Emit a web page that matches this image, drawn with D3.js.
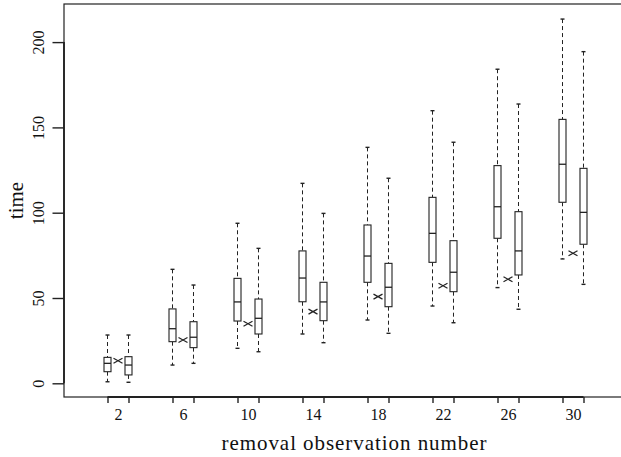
<!DOCTYPE html>
<html>
<head>
<meta charset="utf-8">
<script src="https://cdn.jsdelivr.net/npm/d3@7"></script>
<style>
  body { margin: 0; background: #fff; }
  svg { display: block; }
  text { font-family: "Liberation Serif", "Times New Roman", serif; fill: #111; }
</style>
</head>
<body>
<svg></svg>
<script>
// removal observation numbers (pair centres)
var positions = [2, 6, 10, 14, 18, 22, 26, 30];

// left box of each pair
var aLow  = [0.9, 10.7, 20.5, 28.9, 37.1, 45.3, 56.1, 72.9];
var aQ1   = [6.8, 24.4, 36.5, 47.8, 59.2, 70.9, 85.0, 106.1];
var aMed  = [11.7, 32.0, 47.7, 61.7, 74.6, 87.9, 103.5, 128.4];
var aQ3   = [15.2, 43.6, 61.5, 77.6, 92.8, 109.0, 127.6, 154.7];
var aHigh = [28.3, 66.8, 93.8, 117.2, 138.3, 159.8, 184.1, 213.5];

// right box of each pair
var bLow  = [0.6, 11.7, 18.5, 23.8, 29.3, 35.5, 43.4, 58.0];
var bQ1   = [4.9, 20.9, 28.9, 36.7, 44.9, 53.7, 63.5, 81.5];
var bMed  = [10.7, 27.0, 38.1, 47.7, 56.3, 65.1, 77.6, 100.2];
var bQ3   = [15.6, 36.1, 49.4, 59.2, 70.3, 83.6, 100.6, 126.0];
var bHigh = [28.3, 57.6, 79.1, 99.6, 120.2, 141.3, 163.7, 194.4];

// the "x" marks between the boxes
var marks = [13.2, 25.4, 34.9, 42.0, 50.8, 57.2, 61.0, 76.2];

var yTicks = [0, 50, 100, 150, 200];

var width = 621, height = 457;
var plot = { left: 64, right: 644, top: 4, bottom: 397 };
var shift = 0.646,   // box offset from the pair centre, in observation units
    boxW = 7,
    capW = 4;

var svg = d3.select("svg")
  .attr("width", width)
  .attr("height", height);

var x = d3.scaleLinear()
  .domain([2, 30])
  .range([118, 573]);

var y = d3.scaleLinear()
  .domain([0, 200])
  .range([383.3, 42.1]);

// build the box table from the arrays
var boxes = [];
positions.forEach(function(p, i) {
  boxes.push({ at: p - shift, low: aLow[i], q1: aQ1[i], med: aMed[i], q3: aQ3[i], high: aHigh[i] });
  boxes.push({ at: p + shift, low: bLow[i], q1: bQ1[i], med: bMed[i], q3: bQ3[i], high: bHigh[i] });
});

var g = svg.selectAll("g.box")
  .data(boxes)
  .enter()
  .append("g")
  .attr("class", "box");

// dashed whiskers
g.append("line")
  .attr("x1", d => x(d.at)).attr("x2", d => x(d.at))
  .attr("y1", d => y(d.high)).attr("y2", d => y(d.q3))
  .attr("stroke", "#222").attr("stroke-dasharray", "4,3");
g.append("line")
  .attr("x1", d => x(d.at)).attr("x2", d => x(d.at))
  .attr("y1", d => y(d.q1)).attr("y2", d => y(d.low))
  .attr("stroke", "#222").attr("stroke-dasharray", "4,3");

// staples
g.append("line")
  .attr("x1", d => x(d.at) - capW / 2).attr("x2", d => x(d.at) + capW / 2)
  .attr("y1", d => y(d.high)).attr("y2", d => y(d.high))
  .attr("stroke", "#222").attr("stroke-width", 1.4);
g.append("line")
  .attr("x1", d => x(d.at) - capW / 2).attr("x2", d => x(d.at) + capW / 2)
  .attr("y1", d => y(d.low)).attr("y2", d => y(d.low))
  .attr("stroke", "#222").attr("stroke-width", 1.4);

// boxes and medians
g.append("rect")
  .attr("x", d => x(d.at) - boxW / 2)
  .attr("y", d => y(d.q3))
  .attr("width", boxW)
  .attr("height", d => y(d.q1) - y(d.q3))
  .attr("fill", "white")
  .attr("stroke", "#222")
  .attr("stroke-width", 1.1);
g.append("line")
  .attr("x1", d => x(d.at) - boxW / 2).attr("x2", d => x(d.at) + boxW / 2)
  .attr("y1", d => y(d.med)).attr("y2", d => y(d.med))
  .attr("stroke", "#222").attr("stroke-width", 1.3);

// x marks
svg.selectAll("path.mark")
  .data(marks)
  .enter()
  .append("path")
  .attr("class", "mark")
  .attr("d", (d, i) => {
    var cx = x(positions[i]), cy = y(d);
    return "M" + (cx - 4.5) + "," + (cy - 2.5) + "L" + (cx + 4.5) + "," + (cy + 2.5) +
           "M" + (cx - 4.5) + "," + (cy + 2.5) + "L" + (cx + 4.5) + "," + (cy - 2.5);
  })
  .attr("stroke", "#222")
  .attr("stroke-width", 1.2)
  .attr("fill", "none");

// plot frame
svg.append("rect")
  .attr("x", plot.left).attr("y", plot.top)
  .attr("width", plot.right - plot.left)
  .attr("height", plot.bottom - plot.top)
  .attr("fill", "none")
  .attr("stroke", "#222")
  .attr("stroke-width", 1.2);

// y axis
var yAxis = d3.axisLeft(y)
  .tickValues(yTicks)
  .tickSize(11.5)
  .tickPadding(8);

var ya = svg.append("g")
  .attr("transform", "translate(" + plot.left + ",0)")
  .call(yAxis);
ya.select(".domain").remove();
ya.selectAll(".tick line").attr("stroke", "#222").attr("stroke-width", 1.4);
ya.selectAll(".tick text")
  .attr("font-family", "Liberation Serif")
  .attr("font-size", "16px")
  .attr("fill", "#111")
  .attr("text-anchor", "middle")
  .attr("dy", null)
  .attr("transform", "rotate(-90)")
  .attr("x", 0)
  .attr("y", 0)
  .each(function(d) {
    d3.select(this).attr("transform", "translate(-20,0) rotate(-90)");
  });
svg.append("line")
  .attr("x1", plot.left).attr("x2", plot.left)
  .attr("y1", y(0)).attr("y2", y(200))
  .attr("stroke", "#222").attr("stroke-width", 1.8);

// x axis: ticks at the boxes, labels at the pair centres
var boxAt = boxes.map(d => d.at);
var xAxis = d3.axisBottom(x)
  .tickValues(boxAt)
  .tickSize(6)
  .tickFormat("");
var xa = svg.append("g")
  .attr("transform", "translate(0," + plot.bottom + ")")
  .call(xAxis);
xa.select(".domain").remove();
xa.selectAll(".tick line").attr("stroke", "#222").attr("stroke-width", 1.4);
svg.append("line")
  .attr("x1", x(d3.min(boxAt))).attr("x2", x(d3.max(boxAt)))
  .attr("y1", plot.bottom).attr("y2", plot.bottom)
  .attr("stroke", "#222").attr("stroke-width", 1.8);

var xLabels = d3.axisBottom(x)
  .tickValues(positions)
  .tickSize(0)
  .tickPadding(0)
  .tickFormat(d3.format("d"));
var xl = svg.append("g")
  .attr("transform", "translate(0,420)")
  .call(xLabels);
xl.select(".domain").remove();
xl.selectAll(".tick text")
  .attr("font-family", "Liberation Serif")
  .attr("font-size", "16px")
  .attr("fill", "#111")
  .attr("y", 0)
  .attr("dy", null);

// axis titles
svg.append("text")
  .attr("x", (plot.left + plot.right) / 2)
  .attr("y", 450)
  .attr("text-anchor", "middle")
  .attr("font-size", "21px")
  .attr("textLength", 265)
  .attr("lengthAdjust", "spacing")
  .text("removal observation number");

svg.append("text")
  .attr("transform", "translate(23," + ((plot.top + plot.bottom) / 2) + ") rotate(-90)")
  .attr("text-anchor", "middle")
  .attr("font-size", "21px")
  .text("time");
</script>
</body>
</html>
